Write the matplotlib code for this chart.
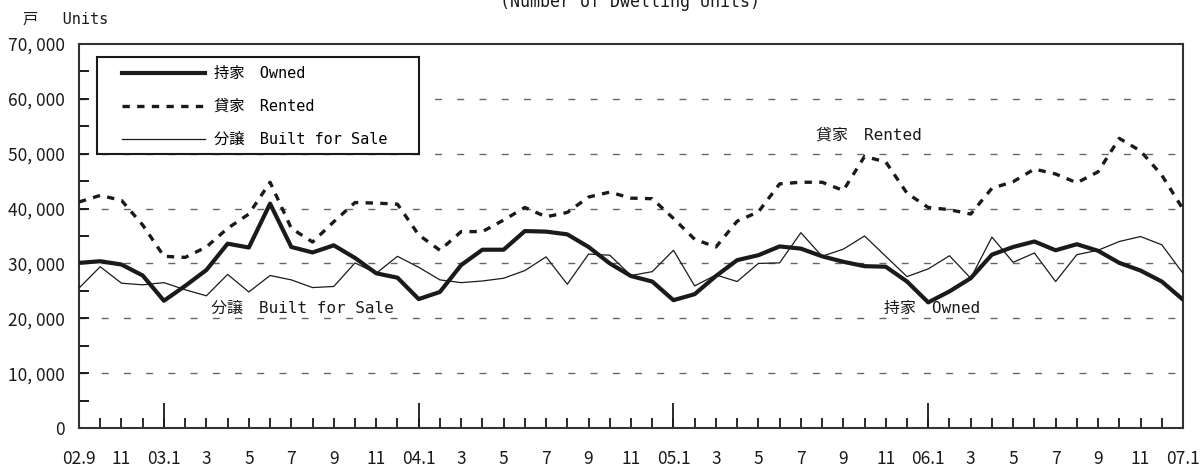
import matplotlib
matplotlib.use('Agg')
import matplotlib.pyplot as plt
from matplotlib.patches import Rectangle
import numpy as np

plt.rcParams['font.family'] = ['Noto Sans CJK JP', 'DejaVu Sans']
MONO = ['DejaVu Sans Mono', 'Noto Sans CJK JP']

# ── Data (monthly, 2002.9 - 2007.1) ──────────────────────────────────────────

month_labels = ['02.9', '10', '11', '12', '03.1', '2', '3', '4', '5', '6', '7', '8', '9', '10', '11', '12',
                '04.1', '2', '3', '4', '5', '6', '7', '8', '9', '10', '11', '12',
                '05.1', '2', '3', '4', '5', '6', '7', '8', '9', '10', '11', '12',
                '06.1', '2', '3', '4', '5', '6', '7', '8', '9', '10', '11', '12',
                '07.1']

owned = [30100, 30400, 29800, 27800, 23200, 25900, 28800, 33600, 32900, 40900,
         33000, 32000, 33300, 31000, 28200, 27400, 23500, 24800, 29700, 32500,
         32500, 35900, 35800, 35300, 33000, 30000, 27700, 26700, 23300, 24400,
         27700, 30600, 31500, 33100, 32700, 31300, 30300, 29500, 29400, 26700,
         22900, 24900, 27300, 31600, 33000, 34000, 32400, 33500, 32300, 30100,
         28700, 26700, 23400]

rented = [41200, 42400, 41500, 37000, 31300, 31100, 33000, 36400, 39000, 44800,
          36400, 33900, 37600, 41100, 41000, 40800, 35200, 32400, 35800, 35800,
          37900, 40200, 38500, 39300, 42100, 43000, 41900, 41800, 38200, 34400,
          33000, 37700, 39400, 44500, 44800, 44800, 43300, 49500, 48500, 42800,
          40200, 39800, 39000, 43700, 44900, 47200, 46300, 44700, 46700, 52800,
          50500, 46100, 39900]

built = [25500, 29400, 26400, 26100, 26500, 25200, 24100, 28000, 24800, 27800,
         27000, 25600, 25800, 30100, 28200, 31300, 29300, 27000, 26500, 26800,
         27300, 28700, 31200, 26200, 31700, 31500, 27800, 28500, 32400, 25900,
         27900, 26700, 30000, 30100, 35600, 31300, 32600, 35000, 31300, 27600,
         29000, 31400, 27300, 34800, 30200, 31900, 26700, 31600, 32400, 34000,
         34900, 33400, 28200]

yticks = [0, 10000, 20000, 30000, 40000, 50000, 60000, 70000]

# ── Figure ───────────────────────────────────────────────────────────────────

fig = plt.figure(figsize=(12.03, 4.70), dpi=100)
ax = fig.add_axes([79 / 1203, 1 - 428 / 470, 1104 / 1203, 384 / 470])

x = np.arange(len(owned))
ink = '#1a1a1a'

for y in yticks[1:-1]:
    ax.axhline(y, color='#666666', linewidth=1.0, dashes=(5, 11), zorder=1)

ax.plot(x, built, color=ink, linewidth=0.9, label='分譲　Built for Sale', zorder=3)
ax.plot(x, rented, color=ink, linewidth=2.4, dashes=(2.2, 2.2), label='貸家　Rented', zorder=3)
ax.plot(x, owned, color=ink, linewidth=3.0, label='持家　Owned', zorder=4)

ax.set_xlim(0, len(owned) - 1)
ax.set_ylim(0, 70000)

# y axis
ax.set_yticks(yticks)
ax.set_yticklabels([f'{v:,}'.replace(',', ', ') for v in yticks])
ax.set_yticks(np.arange(0, 70001, 5000), minor=True)
ax.tick_params(axis='y', which='both', direction='in', length=7, width=1.4,
               colors=ink, labelsize=12.5, pad=10)

# x axis: short tick each month, long tick at January, label every 2 months
ax.xaxis.remove_overlapping_locs = False
ax.set_xticks(x)
ax.set_xticklabels([lab if i % 2 == 0 else '' for i, lab in enumerate(month_labels)])
jan = [i for i, lab in enumerate(month_labels) if '.' in lab]
ax.set_xticks(jan, minor=True)
ax.tick_params(axis='x', which='major', direction='in', length=7, width=1.3,
               colors=ink, labelsize=12.5, pad=16)
ax.tick_params(axis='x', which='minor', direction='in', length=18, width=1.3, colors=ink)

for s in ax.spines.values():
    s.set_linewidth(1.5)
    s.set_color('#333333')

# legend: own frame so the padding matches the original box
ax.add_patch(Rectangle((0.0163, 0.714), 0.2917, 0.252, transform=ax.transAxes,
                       facecolor='white', edgecolor=ink, linewidth=1.5, zorder=5))
handles, labels = ax.get_legend_handles_labels()
order = [2, 1, 0]
leg = ax.legend([handles[i] for i in order], [labels[i] for i in order],
                loc='upper left', bbox_to_anchor=(0.039, 0.943), borderaxespad=0,
                prop={'family': MONO, 'size': 11}, handlelength=5.4, handletextpad=0.6,
                labelspacing=1.18, borderpad=0, frameon=False)
leg.set_zorder(6)

# in-chart labels
ax.text(34.7, 53400, '貸家　Rented', family=MONO, fontsize=11.5, va='center', ha='left', color=ink)
ax.text(6.2, 21900, '分譲　Built for Sale', family=MONO, fontsize=11.5, va='center', ha='left', color=ink)
ax.text(37.9, 21700, '持家　Owned', family=MONO, fontsize=11.5, va='center', ha='left', color=ink)

# header texts
fig.text(23 / 1203, 1 - 19 / 470, '戸　 Units', family=MONO, fontsize=11,
         va='center', ha='left', color=ink)
fig.text(630 / 1203, 1 - 11 / 470, '(Number of Dwelling Units)', family=MONO, fontsize=12,
         va='bottom', ha='center', color=ink)

fig.savefig('out.png', dpi=100)
